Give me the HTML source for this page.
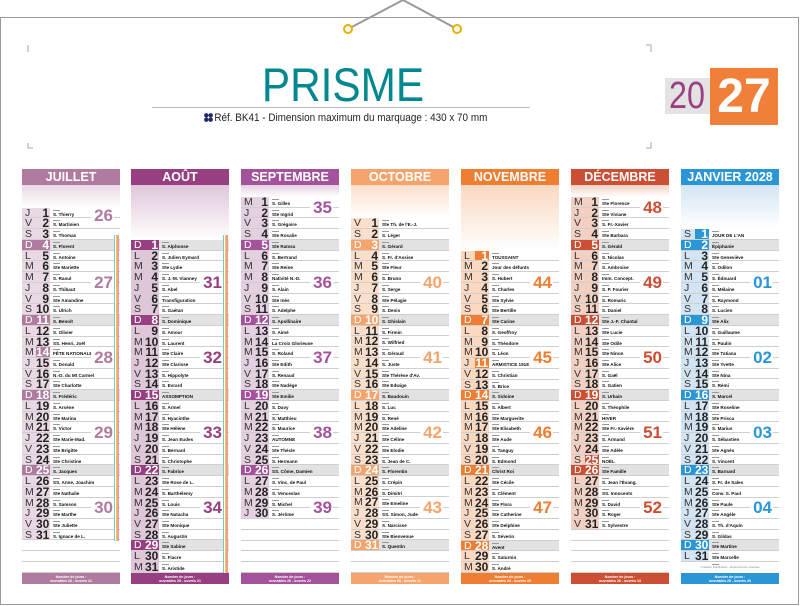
<!DOCTYPE html>
<html><head><meta charset="utf-8">
<style>
*{box-sizing:border-box}
body{margin:0;width:800px;height:606px;background:#fff;position:relative;overflow:hidden;font-family:"Liberation Sans",sans-serif}
.frame{position:absolute;left:0;top:17px;width:799px;height:588px;border:1.5px solid #9a9a9a}
.c{position:absolute;top:169px;width:98px;height:415px}
.c h2{margin:0;height:16px;background:var(--m);color:#fff;font:bold 12.5px/16px "Liberation Sans",sans-serif;text-align:center}
.g{background:linear-gradient(var(--t),#fff)}
.c p{margin:0;height:10.74px;position:relative;border-bottom:1px solid #cfcfcf;font-size:0;overflow:hidden}
.c p.s{background:#e2e2e2}
.c p b{position:absolute;left:0;top:0;width:14px;height:10px;background:var(--t);font:10.5px/10.5px "Liberation Sans",sans-serif;color:#333;padding-left:3px;font-weight:normal}
.c p i{position:absolute;left:14px;top:0;width:14px;height:10px;background:var(--t);font:bold 12px/10.5px "Liberation Sans",sans-serif;color:#222;text-align:right;padding-right:1px;font-style:normal}
.c p.s b,.c p.s i{background:var(--m);color:#fff}
.c p.h i{background:var(--m);color:#fff}
.c p u{position:absolute;left:31px;top:4px;font:bold 4.6px/5px "Liberation Sans",sans-serif;color:#111;text-decoration:none;white-space:nowrap}
.c p:not(:empty)::after{content:"";position:absolute;left:31px;top:2px;width:7px;height:1px;background:#999}
.c em{position:absolute;right:6px;font:bold 17px/18px "Liberation Sans",sans-serif;color:var(--m);background:#fff;padding:0 1px 0 3px;font-style:normal;z-index:2}
.c .f{position:absolute;left:0;top:404px;width:98px;height:11px;background:var(--m);color:#fff;font:bold 3.6px/4.2px "Liberation Sans",sans-serif;text-align:center;padding-top:1.5px}
.st{position:absolute;right:1px;width:5px;background:linear-gradient(to right,#7cc6c6 0,#7cc6c6 1px,#fff 1px,#fff 2px,#f3c64d 2px,#f3c64d 3px,#f3a07a 3px,#f3a07a 4px,#e59ab9 4px);z-index:1}
</style></head><body>
<div class="frame"></div>
<svg width="800" height="60" style="position:absolute;left:0;top:0">
<polyline points="348,29 403,0 457,29" fill="none" stroke="#9a9a9a" stroke-width="2"/>
<circle cx="348" cy="29" r="4" fill="#fff" stroke="#e8b000" stroke-width="2"/>
<circle cx="457" cy="29" r="4" fill="#fff" stroke="#e8b000" stroke-width="2"/>
<polyline points="28,45 28,52" stroke="#aaa" fill="none"/>
<polyline points="646,45 651,45 651,52" stroke="#aaa" fill="none"/>
</svg>
<svg width="800" height="160" style="position:absolute;left:0;top:0"><polyline points="28,143 28,148 33,148" stroke="#aaa" fill="none"/><polyline points="651,142 651,148 646,148" stroke="#aaa" fill="none"/></svg>
<div style="position:absolute;left:243px;top:61px;width:200px;text-align:center;font:47px/1 'Liberation Sans',sans-serif;color:#00888f;transform:scaleX(.9)">PRISME</div>
<div style="position:absolute;left:152px;top:107px;width:378px;height:1px;background:#bdbdbd"></div>
<svg style="position:absolute;left:204px;top:113px" width="9" height="9"><circle cx="2.3" cy="2.3" r="2.2" fill="#1d2a6b"/><circle cx="6.7" cy="2.3" r="2.2" fill="#1d2a6b"/><circle cx="2.3" cy="6.7" r="2.2" fill="#1d2a6b"/><circle cx="6.7" cy="6.7" r="2.2" fill="#1d2a6b"/></svg>
<div style="position:absolute;left:200px;top:111px;width:292px;font:11px/14px 'Liberation Sans',sans-serif;color:#222;transform:scaleX(.9);transform-origin:left;white-space:nowrap;padding-left:16px">Réf. BK41 - Dimension maximum du marquage : 430 x 70 mm</div>
<div style="position:absolute;left:665px;top:78px;width:45px;height:36px;background:#e3e3e3"></div>
<div style="position:absolute;left:662px;top:75px;width:50px;text-align:center;font:38px/42px 'Liberation Sans',sans-serif;color:#9b3f85;transform:scaleX(.85)">20</div>
<div style="position:absolute;left:710px;top:68px;width:68px;height:57px;background:#f08039;color:#fff;font:bold 48px/57px 'Liberation Sans',sans-serif;text-align:center">27</div>

<div class="c" style="left:22px;--m:#b07b9f;--t:#ead9e5">
<h2>JUILLET</h2><div class="g" style="height:22.7px"></div>
<p><b>J</b><i>1</i><u>S. Thierry</u></p><p><b>V</b><i>2</i><u>S. Martinien</u></p><p><b>S</b><i>3</i><u>S. Thomas</u></p><p class="s"><b>D</b><i>4</i><u>S. Florent</u></p><p><b>L</b><i>5</i><u>S. Antoine</u></p><p><b>M</b><i>6</i><u>Ste Mariette</u></p><p><b>M</b><i>7</i><u>S. Raoul</u></p><p><b>J</b><i>8</i><u>S. Thibaut</u></p><p><b>V</b><i>9</i><u>Ste Amandine</u></p><p><b>S</b><i>10</i><u>S. Ulrich</u></p><p class="s"><b>D</b><i>11</i><u>S. Benoît</u></p><p><b>L</b><i>12</i><u>S. Olivier</u></p><p><b>M</b><i>13</i><u>SS. Henri, Joël</u></p><p class="h"><b>M</b><i>14</i><u>FÊTE NATIONALE</u></p><p><b>J</b><i>15</i><u>S. Donald</u></p><p><b>V</b><i>16</i><u>N.-D. du Mt Carmel</u></p><p><b>S</b><i>17</i><u>Ste Charlotte</u></p><p class="s"><b>D</b><i>18</i><u>S. Frédéric</u></p><p><b>L</b><i>19</i><u>S. Arsène</u></p><p><b>M</b><i>20</i><u>Ste Marina</u></p><p><b>M</b><i>21</i><u>S. Victor</u></p><p><b>J</b><i>22</i><u>Ste Marie-Mad.</u></p><p><b>V</b><i>23</i><u>Ste Brigitte</u></p><p><b>S</b><i>24</i><u>Ste Christine</u></p><p class="s"><b>D</b><i>25</i><u>S. Jacques</u></p><p><b>L</b><i>26</i><u>SS. Anne, Joachim</u></p><p><b>M</b><i>27</i><u>Ste Nathalie</u></p><p><b>M</b><i>28</i><u>S. Samson</u></p><p><b>J</b><i>29</i><u>Ste Marthe</u></p><p><b>V</b><i>30</i><u>Ste Juliette</u></p><p><b>S</b><i>31</i><u>S. Ignace de L.</u></p><p></p><p></p><p></p>
<div class="st" style="top:66px;height:306px"></div>
<em style="top:38px">26</em><em style="top:104.9px">27</em><em style="top:180.1px">28</em><em style="top:255.2px">29</em><em style="top:330.4px">30</em>
<div class="f">Nombre de jours :<br>ouvrables 26 - ouvrés 21</div></div>

<div class="c" style="left:131px;--m:#973f80;--t:#dfc6d9">
<h2>AOÛT</h2><div class="g" style="height:54.9px"></div>
<p class="s"><b>D</b><i>1</i><u>S. Alphonse</u></p><p><b>L</b><i>2</i><u>S. Julien Eymard</u></p><p><b>M</b><i>3</i><u>Ste Lydie</u></p><p><b>M</b><i>4</i><u>S. J.-M. Vianney</u></p><p><b>J</b><i>5</i><u>S. Abel</u></p><p><b>V</b><i>6</i><u>Transfiguration</u></p><p><b>S</b><i>7</i><u>S. Gaétan</u></p><p class="s"><b>D</b><i>8</i><u>S. Dominique</u></p><p><b>L</b><i>9</i><u>S. Amour</u></p><p><b>M</b><i>10</i><u>S. Laurent</u></p><p><b>M</b><i>11</i><u>Ste Claire</u></p><p><b>J</b><i>12</i><u>Ste Clarisse</u></p><p><b>V</b><i>13</i><u>S. Hippolyte</u></p><p><b>S</b><i>14</i><u>S. Evrard</u></p><p class="s"><b>D</b><i>15</i><u>ASSOMPTION</u></p><p><b>L</b><i>16</i><u>S. Armel</u></p><p><b>M</b><i>17</i><u>S. Hyacinthe</u></p><p><b>M</b><i>18</i><u>Ste Hélène</u></p><p><b>J</b><i>19</i><u>S. Jean Eudes</u></p><p><b>V</b><i>20</i><u>S. Bernard</u></p><p><b>S</b><i>21</i><u>S. Christophe</u></p><p class="s"><b>D</b><i>22</i><u>S. Fabrice</u></p><p><b>L</b><i>23</i><u>Ste Rose de L.</u></p><p><b>M</b><i>24</i><u>S. Barthélemy</u></p><p><b>M</b><i>25</i><u>S. Louis</u></p><p><b>J</b><i>26</i><u>Ste Natacha</u></p><p><b>V</b><i>27</i><u>Ste Monique</u></p><p><b>S</b><i>28</i><u>S. Augustin</u></p><p class="s"><b>D</b><i>29</i><u>Ste Sabine</u></p><p><b>L</b><i>30</i><u>S. Fiacre</u></p><p><b>M</b><i>31</i><u>S. Aristide</u></p>
<div class="st" style="top:66px;height:338px"></div>
<em style="top:104.9px">31</em><em style="top:180.1px">32</em><em style="top:255.2px">33</em><em style="top:330.4px">34</em>
<div class="f">Nombre de jours :<br>ouvrables 25 - ouvrés 21</div></div>

<div class="c" style="left:241px;--m:#a5529c;--t:#e5d0e2">
<h2>SEPTEMBRE</h2><div class="g" style="height:12px"></div>
<p><b>M</b><i>1</i><u>S. Gilles</u></p><p><b>J</b><i>2</i><u>Ste Ingrid</u></p><p><b>V</b><i>3</i><u>S. Grégoire</u></p><p><b>S</b><i>4</i><u>Ste Rosalie</u></p><p class="s"><b>D</b><i>5</i><u>Ste Raïssa</u></p><p><b>L</b><i>6</i><u>S. Bertrand</u></p><p><b>M</b><i>7</i><u>Ste Reine</u></p><p><b>M</b><i>8</i><u>Nativité N.-D.</u></p><p><b>J</b><i>9</i><u>S. Alain</u></p><p><b>V</b><i>10</i><u>Ste Inès</u></p><p><b>S</b><i>11</i><u>S. Adelphe</u></p><p class="s"><b>D</b><i>12</i><u>S. Apollinaire</u></p><p><b>L</b><i>13</i><u>S. Aimé</u></p><p><b>M</b><i>14</i><u>La Croix Glorieuse</u></p><p><b>M</b><i>15</i><u>S. Roland</u></p><p><b>J</b><i>16</i><u>Ste Edith</u></p><p><b>V</b><i>17</i><u>S. Renaud</u></p><p><b>S</b><i>18</i><u>Ste Nadège</u></p><p class="s"><b>D</b><i>19</i><u>Ste Emilie</u></p><p><b>L</b><i>20</i><u>S. Davy</u></p><p><b>M</b><i>21</i><u>S. Matthieu</u></p><p><b>M</b><i>22</i><u>S. Maurice</u></p><p><b>J</b><i>23</i><u>AUTOMNE</u></p><p><b>V</b><i>24</i><u>Ste Thècle</u></p><p><b>S</b><i>25</i><u>S. Hermann</u></p><p class="s"><b>D</b><i>26</i><u>SS. Côme, Damien</u></p><p><b>L</b><i>27</i><u>S. Vinc. de Paul</u></p><p><b>M</b><i>28</i><u>S. Venceslas</u></p><p><b>M</b><i>29</i><u>S. Michel</u></p><p><b>J</b><i>30</i><u>S. Jérôme</u></p><p></p><p></p><p></p><p></p><p></p>
<em style="top:29.7px">35</em><em style="top:104.9px">36</em><em style="top:180.1px">37</em><em style="top:255.2px">38</em><em style="top:330.4px">39</em>
<div class="f">Nombre de jours :<br>ouvrables 26 - ouvrés 22</div></div>

<div class="c" style="left:351px;--m:#f4a46c;--t:#fcdfca">
<h2>OCTOBRE</h2><div class="g" style="height:33.4px"></div>
<p><b>V</b><i>1</i><u>Ste Th. de l'E.-J.</u></p><p><b>S</b><i>2</i><u>S. Léger</u></p><p class="s"><b>D</b><i>3</i><u>S. Gérard</u></p><p><b>L</b><i>4</i><u>S. Fr. d'Assise</u></p><p><b>M</b><i>5</i><u>Ste Fleur</u></p><p><b>M</b><i>6</i><u>S. Bruno</u></p><p><b>J</b><i>7</i><u>S. Serge</u></p><p><b>V</b><i>8</i><u>Ste Pélagie</u></p><p><b>S</b><i>9</i><u>S. Denis</u></p><p class="s"><b>D</b><i>10</i><u>S. Ghislain</u></p><p><b>L</b><i>11</i><u>S. Firmin</u></p><p><b>M</b><i>12</i><u>S. Wilfried</u></p><p><b>M</b><i>13</i><u>S. Géraud</u></p><p><b>J</b><i>14</i><u>S. Juste</u></p><p><b>V</b><i>15</i><u>Ste Thérèse d'Av.</u></p><p><b>S</b><i>16</i><u>Ste Edwige</u></p><p class="s"><b>D</b><i>17</i><u>S. Baudouin</u></p><p><b>L</b><i>18</i><u>S. Luc</u></p><p><b>M</b><i>19</i><u>S. René</u></p><p><b>M</b><i>20</i><u>Ste Adeline</u></p><p><b>J</b><i>21</i><u>Ste Céline</u></p><p><b>V</b><i>22</i><u>Ste Elodie</u></p><p><b>S</b><i>23</i><u>S. Jean de C.</u></p><p class="s"><b>D</b><i>24</i><u>S. Florentin</u></p><p><b>L</b><i>25</i><u>S. Crépin</u></p><p><b>M</b><i>26</i><u>S. Dimitri</u></p><p><b>M</b><i>27</i><u>Ste Emeline</u></p><p><b>J</b><i>28</i><u>SS. Simon, Jude</u></p><p><b>V</b><i>29</i><u>S. Narcisse</u></p><p><b>S</b><i>30</i><u>Ste Bienvenue</u></p><p class="s"><b>D</b><i>31</i><u>S. Quentin</u></p><p></p><p></p>
<em style="top:104.9px">40</em><em style="top:180.1px">41</em><em style="top:255.2px">42</em><em style="top:330.4px">43</em>
<div class="f">Nombre de jours :<br>ouvrables 26 - ouvrés 21</div></div>

<div class="c" style="left:461px;--m:#ef7d32;--t:#fbd8c0">
<h2>NOVEMBRE</h2><div class="g" style="height:65.7px"></div>
<p class="h"><b>L</b><i>1</i><u>TOUSSAINT</u></p><p><b>M</b><i>2</i><u>Jour des défunts</u></p><p><b>M</b><i>3</i><u>S. Hubert</u></p><p><b>J</b><i>4</i><u>S. Charles</u></p><p><b>V</b><i>5</i><u>Ste Sylvie</u></p><p><b>S</b><i>6</i><u>Ste Bertille</u></p><p class="s"><b>D</b><i>7</i><u>Ste Carine</u></p><p><b>L</b><i>8</i><u>S. Geoffroy</u></p><p><b>M</b><i>9</i><u>S. Théodore</u></p><p><b>M</b><i>10</i><u>S. Léon</u></p><p class="h"><b>J</b><i>11</i><u>ARMISTICE 1918</u></p><p><b>V</b><i>12</i><u>S. Christian</u></p><p><b>S</b><i>13</i><u>S. Brice</u></p><p class="s"><b>D</b><i>14</i><u>S. Sidoine</u></p><p><b>L</b><i>15</i><u>S. Albert</u></p><p><b>M</b><i>16</i><u>Ste Marguerite</u></p><p><b>M</b><i>17</i><u>Ste Elisabeth</u></p><p><b>J</b><i>18</i><u>Ste Aude</u></p><p><b>V</b><i>19</i><u>S. Tanguy</u></p><p><b>S</b><i>20</i><u>S. Edmond</u></p><p class="s"><b>D</b><i>21</i><u>Christ Roi</u></p><p><b>L</b><i>22</i><u>Ste Cécile</u></p><p><b>M</b><i>23</i><u>S. Clément</u></p><p><b>M</b><i>24</i><u>Ste Flora</u></p><p><b>J</b><i>25</i><u>Ste Catherine</u></p><p><b>V</b><i>26</i><u>Ste Delphine</u></p><p><b>S</b><i>27</i><u>S. Séverin</u></p><p class="s"><b>D</b><i>28</i><u>Avent</u></p><p><b>L</b><i>29</i><u>S. Saturnin</u></p><p><b>M</b><i>30</i><u>S. André</u></p>
<em style="top:104.9px">44</em><em style="top:180.1px">45</em><em style="top:255.2px">46</em><em style="top:330.4px">47</em>
<div class="f">Nombre de jours :<br>ouvrables 24 - ouvrés 20</div></div>

<div class="c" style="left:571px;--m:#cc4e33;--t:#f3d0c2">
<h2>DÉCEMBRE</h2><div class="g" style="height:12px"></div>
<p><b>M</b><i>1</i><u>Ste Florence</u></p><p><b>J</b><i>2</i><u>Ste Viviane</u></p><p><b>V</b><i>3</i><u>S. Fr.-Xavier</u></p><p><b>S</b><i>4</i><u>Ste Barbara</u></p><p class="s"><b>D</b><i>5</i><u>S. Gérald</u></p><p><b>L</b><i>6</i><u>S. Nicolas</u></p><p><b>M</b><i>7</i><u>S. Ambroise</u></p><p><b>M</b><i>8</i><u>Imm. Concept.</u></p><p><b>J</b><i>9</i><u>S. P. Fourier</u></p><p><b>V</b><i>10</i><u>S. Romaric</u></p><p><b>S</b><i>11</i><u>S. Daniel</u></p><p class="s"><b>D</b><i>12</i><u>Ste J.-F. Chantal</u></p><p><b>L</b><i>13</i><u>Ste Lucie</u></p><p><b>M</b><i>14</i><u>Ste Odile</u></p><p><b>M</b><i>15</i><u>Ste Ninon</u></p><p><b>J</b><i>16</i><u>Ste Alice</u></p><p><b>V</b><i>17</i><u>S. Gaël</u></p><p><b>S</b><i>18</i><u>S. Gatien</u></p><p class="s"><b>D</b><i>19</i><u>S. Urbain</u></p><p><b>L</b><i>20</i><u>S. Théophile</u></p><p><b>M</b><i>21</i><u>HIVER</u></p><p><b>M</b><i>22</i><u>Ste Fr.-Xavière</u></p><p><b>J</b><i>23</i><u>S. Armand</u></p><p><b>V</b><i>24</i><u>Ste Adèle</u></p><p class="h"><b>S</b><i>25</i><u>NOËL</u></p><p class="s"><b>D</b><i>26</i><u>Ste Famille</u></p><p><b>L</b><i>27</i><u>S. Jean l'Évang.</u></p><p><b>M</b><i>28</i><u>SS. Innocents</u></p><p><b>M</b><i>29</i><u>S. David</u></p><p><b>J</b><i>30</i><u>S. Roger</u></p><p><b>V</b><i>31</i><u>S. Sylvestre</u></p><p></p><p></p><p></p><p></p>
<em style="top:29.7px">48</em><em style="top:104.9px">49</em><em style="top:180.1px">50</em><em style="top:255.2px">51</em><em style="top:330.4px">52</em>
<div class="f">Nombre de jours :<br>ouvrables 26 - ouvrés 23</div></div>

<div class="c" style="left:681px;--m:#2a96d6;--t:#d3e5f4">
<h2>JANVIER 2028</h2><div class="g" style="height:44.2px"></div>
<p class="h"><b>S</b><i>1</i><u>JOUR DE L'AN</u></p><p class="s"><b>D</b><i>2</i><u>Épiphanie</u></p><p><b>L</b><i>3</i><u>Ste Geneviève</u></p><p><b>M</b><i>4</i><u>S. Odilon</u></p><p><b>M</b><i>5</i><u>S. Édouard</u></p><p><b>J</b><i>6</i><u>S. Mélaine</u></p><p><b>V</b><i>7</i><u>S. Raymond</u></p><p><b>S</b><i>8</i><u>S. Lucien</u></p><p class="s"><b>D</b><i>9</i><u>Ste Alix</u></p><p><b>L</b><i>10</i><u>S. Guillaume</u></p><p><b>M</b><i>11</i><u>S. Paulin</u></p><p><b>M</b><i>12</i><u>Ste Tatiana</u></p><p><b>J</b><i>13</i><u>Ste Yvette</u></p><p><b>V</b><i>14</i><u>Ste Nina</u></p><p><b>S</b><i>15</i><u>S. Rémi</u></p><p class="s"><b>D</b><i>16</i><u>S. Marcel</u></p><p><b>L</b><i>17</i><u>Ste Roseline</u></p><p><b>M</b><i>18</i><u>Ste Prisca</u></p><p><b>M</b><i>19</i><u>S. Marius</u></p><p><b>J</b><i>20</i><u>S. Sébastien</u></p><p><b>V</b><i>21</i><u>Ste Agnès</u></p><p><b>S</b><i>22</i><u>S. Vincent</u></p><p class="s"><b>D</b><i>23</i><u>S. Barnard</u></p><p><b>L</b><i>24</i><u>S. Fr. de Sales</u></p><p><b>M</b><i>25</i><u>Conv. S. Paul</u></p><p><b>M</b><i>26</i><u>Ste Paule</u></p><p><b>J</b><i>27</i><u>Ste Angèle</u></p><p><b>V</b><i>28</i><u>S. Th. d'Aquin</u></p><p><b>S</b><i>29</i><u>S. Gildas</u></p><p class="s"><b>D</b><i>30</i><u>Ste Martine</u></p><p><b>L</b><i>31</i><u>Ste Marcelle</u></p><p style="border:0;font:3px/10px 'Liberation Sans',sans-serif;color:#888;text-align:center">Création Publicitaire - Reproduction interdite</p>
<em style="top:104.9px">01</em><em style="top:180.1px">02</em><em style="top:255.2px">03</em><em style="top:330.4px">04</em>
<div class="f">Nombre de jours :<br>ouvrables 25 - ouvrés 20</div></div>
</body></html>
